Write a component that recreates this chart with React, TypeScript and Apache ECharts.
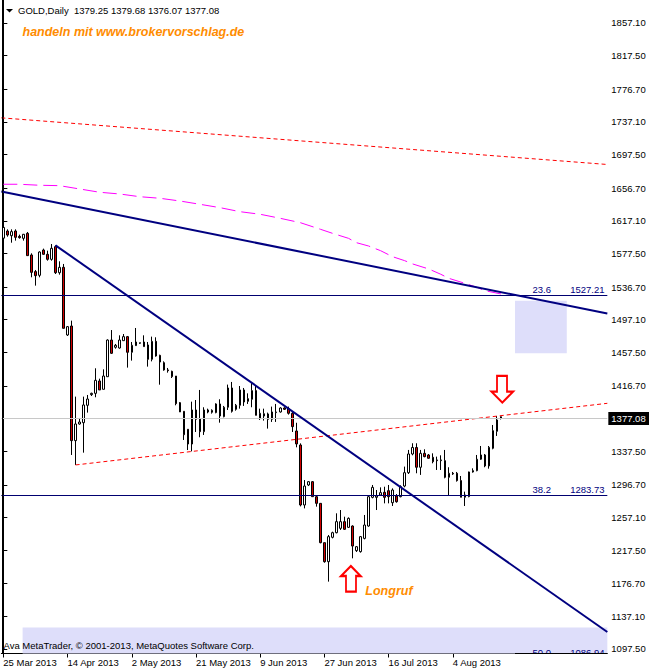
import React, { useEffect, useRef } from 'react';
import * as echarts from 'echarts';

const FONT = '"Liberation Sans", Arial, sans-serif';

// ---- axis setup ----
const SLOT_COUNT = 151; // daily slots incl. empty future space
const LABEL_STEP = 16;
const dateLabels = ['25 Mar 2013', '14 Apr 2013', '2 May 2013', '21 May 2013', '9 Jun 2013', '27 Jun 2013', '16 Jul 2013', '4 Aug 2013'];
const yTickValues = [1857.1, 1817.5, 1776.7, 1737.1, 1697.5, 1656.7, 1617.1, 1577.5, 1536.7, 1497.1, 1457.5, 1416.7, 1337.5, 1296.7, 1257.1, 1217.5, 1176.7, 1137.1, 1097.5];
const Y_MIN = 1092;
const Y_MAX = 1885;

// ---- GOLD daily candles (slot 0 = first, partially hidden bar) ----
const opens = [
  1596,
  1604.7, 1599.0, 1604.7, 1598.2, 1595.8, 1601.9, 1575.6, 1555.4, 1550.9, 1581.6,
  1576.4, 1570.3, 1585.7, 1554.1, 1560.6, 1478.5, 1489.4, 1350.3, 1370.5, 1372.1,
  1393.2, 1406.1, 1407.7, 1422.7, 1412.6, 1427.9, 1472.4, 1463.6, 1462.7, 1471.6,
  1476.5, 1457.5, 1465.6, 1468.4, 1470.0, 1466.4, 1449.0, 1470.8, 1453.8, 1444.9,
  1436.1, 1434.4, 1428.7, 1396.4, 1385.9, 1364.1, 1346.2, 1387.5, 1377.0, 1361.2,
  1385.0, 1384.7, 1384.3, 1394.8, 1379.4, 1390.8, 1414.2, 1388.3, 1393.2, 1411.8,
  1398.0, 1400.5, 1411.0, 1377.0, 1380.2, 1382.7, 1376.2, 1384.3, 1385.1, 1389.9,
  1389.1, 1383.5, 1362.0, 1345.0, 1272.2, 1296.5, 1300.5, 1282.3, 1274.2, 1226.5,
  1203.4, 1233.0, 1238.6, 1243.9, 1252.0, 1245.1, 1246.7, 1216.8, 1215.6, 1231.7,
  1246.7, 1281.5, 1281.5, 1284.3, 1287.6, 1289.6, 1275.0, 1283.1, 1282.3, 1295.2,
  1311.4, 1334.1, 1342.0, 1318.0, 1334.9, 1332.9, 1330.1, 1326.9, 1326.0, 1326.0,
  1305.8, 1310.7, 1310.7, 1301.8, 1281.6, 1282.4, 1312.3, 1313.9, 1327.7, 1332.9,
  1319.6, 1341.0, 1361.6, 1379.25
];
const highs = [
  1614,
  1606.7, 1606.7, 1606.7, 1600.3, 1601.1, 1603.5, 1577.6, 1557.4, 1580.0, 1583.3,
  1580.8, 1588.9, 1587.3, 1567.9, 1564.7, 1489.4, 1495.9, 1403.7, 1377.8, 1403.7,
  1405.7, 1408.5, 1438.1, 1425.5, 1436.8, 1473.2, 1484.5, 1467.6, 1478.1, 1479.7,
  1477.3, 1470.0, 1487.0, 1469.2, 1478.1, 1470.0, 1476.5, 1475.7, 1454.6, 1446.5,
  1438.5, 1435.2, 1428.7, 1397.2, 1385.9, 1364.1, 1397.6, 1399.6, 1411.8, 1390.8,
  1389.1, 1388.3, 1395.6, 1400.5, 1392.4, 1418.3, 1421.5, 1394.8, 1416.6, 1414.2,
  1407.7, 1420.7, 1417.5, 1389.1, 1389.1, 1384.3, 1391.6, 1394.8, 1390.8, 1390.8,
  1391.6, 1385.1, 1372.0, 1347.0, 1302.5, 1301.3, 1301.3, 1284.3, 1274.2, 1226.5,
  1235.8, 1239.8, 1262.1, 1266.1, 1258.0, 1257.2, 1247.5, 1222.4, 1234.6, 1260.1,
  1284.3, 1296.5, 1290.4, 1293.6, 1294.4, 1296.5, 1292.4, 1285.5, 1296.1, 1318.8,
  1339.0, 1347.1, 1347.1, 1339.0, 1339.8, 1334.1, 1334.9, 1330.9, 1332.5, 1339.0,
  1318.0, 1312.3, 1312.3, 1307.4, 1288.4, 1312.7, 1316.7, 1332.9, 1343.8, 1334.1,
  1343.8, 1369.3, 1380.2, 1379.68
];
const lows = [
  1588,
  1597.8, 1590.5, 1593.0, 1595.4, 1593.0, 1574.8, 1548.5, 1538.4, 1548.5, 1576.0,
  1568.7, 1568.7, 1552.5, 1551.7, 1486.6, 1477.3, 1332.9, 1320.8, 1369.7, 1335.7,
  1384.3, 1404.5, 1402.9, 1411.8, 1412.6, 1427.9, 1455.5, 1461.9, 1461.9, 1471.6,
  1438.9, 1447.4, 1465.2, 1467.6, 1464.4, 1440.1, 1446.5, 1452.2, 1418.2, 1435.2,
  1432.8, 1426.3, 1393.2, 1385.1, 1351.1, 1338.9, 1337.3, 1360.8, 1354.4, 1357.2,
  1383.5, 1383.1, 1383.5, 1372.1, 1378.6, 1387.5, 1384.3, 1386.7, 1389.1, 1392.4,
  1394.8, 1390.8, 1381.0, 1375.4, 1374.6, 1364.9, 1373.0, 1373.0, 1384.3, 1387.5,
  1381.9, 1360.8, 1342.2, 1270.5, 1268.1, 1295.2, 1282.3, 1270.2, 1225.7, 1202.2,
  1179.2, 1231.7, 1237.8, 1241.9, 1241.9, 1244.3, 1207.5, 1215.2, 1214.4, 1230.5,
  1245.9, 1280.3, 1266.1, 1283.1, 1274.2, 1274.2, 1271.0, 1275.0, 1281.5, 1293.7,
  1309.8, 1332.5, 1310.7, 1308.7, 1330.1, 1328.5, 1322.8, 1314.7, 1314.7, 1304.6,
  1283.2, 1308.7, 1300.6, 1281.6, 1271.0, 1281.6, 1311.5, 1313.1, 1326.9, 1318.0,
  1316.3, 1339.8, 1356.0, 1376.07
];
const closes = [
  1609,
  1599.8, 1603.9, 1597.0, 1596.6, 1600.7, 1574.8, 1554.5, 1550.5, 1579.2, 1576.4,
  1570.3, 1583.7, 1554.1, 1560.6, 1486.6, 1488.6, 1350.3, 1370.5, 1372.9, 1393.6,
  1400.8, 1407.7, 1423.5, 1411.8, 1428.7, 1472.4, 1456.3, 1466.0, 1472.4, 1476.5,
  1457.5, 1466.0, 1470.0, 1469.2, 1464.4, 1449.0, 1470.8, 1453.0, 1445.7, 1436.1,
  1435.2, 1428.0, 1395.2, 1385.1, 1357.5, 1346.2, 1387.5, 1376.2, 1361.2, 1387.5,
  1387.5, 1387.1, 1394.8, 1380.2, 1390.8, 1414.2, 1385.9, 1393.2, 1411.8, 1397.2,
  1401.3, 1411.0, 1381.0, 1383.5, 1383.0, 1376.2, 1385.1, 1385.1, 1389.9, 1388.3,
  1383.5, 1367.3, 1346.3, 1272.2, 1295.2, 1300.5, 1282.3, 1274.2, 1226.5, 1203.4,
  1233.8, 1238.6, 1252.0, 1252.0, 1242.7, 1256.0, 1222.4, 1221.6, 1233.8, 1247.9,
  1282.3, 1293.6, 1283.1, 1287.2, 1281.5, 1282.3, 1290.4, 1276.2, 1294.5, 1311.4,
  1334.1, 1342.0, 1318.0, 1334.9, 1330.9, 1328.9, 1324.8, 1326.0, 1326.9, 1305.8,
  1310.7, 1309.9, 1301.8, 1281.6, 1284.4, 1312.3, 1313.9, 1327.7, 1332.9, 1319.6,
  1342.2, 1362.4, 1375.4, 1377.08
];

// ---- moving average (magenta, dashed) read at slots ----
const maPoints: [number, number][] = [
  [0, 1661.4], [4, 1661.4], [9, 1660.2], [14, 1659.7], [19, 1655.7], [24, 1651.7], [29, 1649.6],
  [34, 1646.3], [39, 1644.4], [44, 1641.1], [49, 1637.1], [54, 1633.0], [59, 1628.1], [64, 1625.0],
  [69, 1620.1], [74, 1614.8], [79, 1606.8], [82, 1601.9], [86, 1595.8], [88, 1590.5], [91, 1586.5],
  [94, 1580.8], [97, 1573.5], [100, 1568.7], [102, 1564.7], [106, 1558.6], [109, 1552.2], [111, 1547.3],
  [115, 1541.2], [118, 1536.4], [120, 1532.3], [124, 1528.3]
];

// ---- drawn objects ----
const blueTrendUpper: [number, number][] = [[-0.5, 1652.7], [150.5, 1504.5]];
const blueTrendLower: [number, number][] = [[13, 1587.3], [150.5, 1118.1]];
const redDotUpper: [number, number][] = [[-0.5, 1742.0], [150.5, 1685.4]];
const redDotLower: [number, number][] = [[18, 1320.8], [150.5, 1395.6]];
const fibLevels = [
  { pct: '23.6', price: 1527.21 },
  { pct: '38.2', price: 1283.73 },
  { pct: '50.0', price: 1086.94 }
];
const boxTopRight = [[127.5, 1520.1], [140.4, 1456.3]];
const boxBottom = [[4.8, 1123.6], [150.5, Y_MIN]];
const arrowDown = [124.33, 1412.6];
const arrowUp = [86.59, 1182.6];
const lastPrice = closes[closes.length - 1];

const categories = Array.from({ length: SLOT_COUNT }, (_, i) =>
  i % LABEL_STEP === 0 && i / LABEL_STEP < dateLabels.length ? dateLabels[i / LABEL_STEP] : ''
);
const labelInterval = (i: number) => i % LABEL_STEP === 0 && i / LABEL_STEP < dateLabels.length;
const candleData = opens.map((o, i) => [o, closes[i], lows[i], highs[i]]);

export default function App() {
  const ref = useRef<HTMLDivElement>(null);
  useEffect(() => {
    if (!ref.current) return;
    const chart = echarts.init(ref.current, undefined, { renderer: 'svg' });
    const AX_FS = 9.5;
    const option: any = {
      animation: false,
      backgroundColor: '#ffffff',
      textStyle: { fontFamily: FONT },
      grid: { left: 1.33, top: 0, width: 606, height: 653.5, containLabel: false },
      xAxis: [
        {
          type: 'category',
          data: categories,
          boundaryGap: true,
          position: 'bottom',
          axisLine: { show: true, lineStyle: { color: '#000', width: 1 } },
          axisTick: { show: true, alignWithLabel: true, interval: labelInterval, length: 4, lineStyle: { color: '#000' } },
          axisLabel: { show: true, interval: labelInterval, align: 'left', margin: 4, fontSize: AX_FS, color: '#000', fontFamily: FONT },
          splitLine: { show: false }
        },
        { type: 'value', min: -0.5, max: SLOT_COUNT - 0.5, show: false, splitLine: { show: false } }
      ],
      yAxis: {
        type: 'value',
        position: 'right',
        min: Y_MIN,
        max: Y_MAX,
        axisLine: { show: true, lineStyle: { color: '#000', width: 1 } },
        axisTick: { show: true, customValues: yTickValues, length: 4, lineStyle: { color: '#000' } },
        axisLabel: { show: true, customValues: yTickValues, formatter: (v: number) => v.toFixed(2), margin: 4, fontSize: AX_FS, color: '#000', fontFamily: FONT },
        splitLine: { show: false }
      },
      series: [
        {
          type: 'line', xAxisIndex: 1, data: [], z: 1, silent: true,
          markArea: {
            silent: true,
            itemStyle: { color: '#dedefa' },
            data: [
              [{ coord: boxTopRight[0] }, { coord: boxTopRight[1] }],
              [{ coord: boxBottom[0] }, { coord: boxBottom[1] }]
            ]
          }
        },
        {
          type: 'line', xAxisIndex: 1, data: [], z: 2, silent: true,
          markLine: {
            silent: true,
            symbol: ['none', 'none'],
            label: { show: false },
            data: [
              { yAxis: lastPrice, lineStyle: { color: '#c8c8c8', width: 1, type: 'solid' } },
              ...fibLevels.map((f) => ({ yAxis: f.price, lineStyle: { color: '#000070', width: 1, type: 'solid' } }))
            ]
          }
        },
        {
          type: 'candlestick', xAxisIndex: 0, data: candleData, barWidth: 2, z: 3,
          itemStyle: { color: '#ffffff', color0: '#d00000', borderColor: '#000', borderColor0: '#000', borderWidth: 1 }
        },
        {
          type: 'line', xAxisIndex: 1, data: maPoints, symbol: 'none', z: 4,
          lineStyle: { color: '#ff00ff', width: 1, type: [14, 6] }
        },
        {
          type: 'line', xAxisIndex: 1, data: redDotUpper, symbol: 'none', z: 4,
          lineStyle: { color: '#ff0000', width: 1, type: [4, 3] }
        },
        {
          type: 'line', xAxisIndex: 1, data: redDotLower, symbol: 'none', z: 4,
          lineStyle: { color: '#ff0000', width: 1, type: [4, 3] }
        },
        {
          type: 'line', xAxisIndex: 1, data: blueTrendUpper, symbol: 'none', z: 5,
          lineStyle: { color: '#000080', width: 2 }
        },
        {
          type: 'line', xAxisIndex: 1, data: blueTrendLower, symbol: 'none', z: 5,
          lineStyle: { color: '#000080', width: 2 }
        },
        {
          type: 'line', xAxisIndex: 1, data: [], z: 6, silent: true,
          markPoint: {
            silent: true,
            label: { show: false },
            itemStyle: { color: '#ffffff', borderColor: '#ff0000', borderWidth: 2 },
            data: [
              { coord: arrowDown, symbol: 'path://M5.5,0 L15.5,0 L15.5,15.7 L21.6,15.7 L10.8,26.7 L0,15.7 L5.5,15.7 Z', symbolSize: [21.6, 26.7] },
              { coord: arrowUp, symbol: 'path://M9.85,0 L19.7,10 L15,10 L15,25.7 L5,25.7 L5,10 L0,10 Z', symbolSize: [19.7, 25.7] }
            ]
          }
        }
      ]
    };
    chart.setOption(option);

    const px = (v: number) => chart.convertToPixel({ xAxisIndex: 1 }, v) as number;
    const py = (v: number) => chart.convertToPixel({ yAxisIndex: 0 }, v) as number;
    const rightX = px(SLOT_COUNT - 0.5);
    const bottomY = py(Y_MIN);
    const last = opens.length - 1;
    const header = `GOLD,Daily  ${opens[last].toFixed(2)} ${highs[last].toFixed(2)} ${lows[last].toFixed(2)} ${closes[last].toFixed(2)}`;
    const txt = (x: number, y: number, text: string, font: string, fill: string, align = 'left', z = 10) => ({
      type: 'text', x, y, z, silent: true,
      style: { text, font, fill, align, textAlign: align, verticalAlign: 'middle', textVerticalAlign: 'middle' }
    });
    const small = `${AX_FS}px ${FONT}`;
    const orange = `italic bold 12.5px ${FONT}`;
    const graphics: any[] = [
      { type: 'line', z: 10, silent: true, shape: { x1: 2.5, y1: 0, x2: 2.5, y2: bottomY }, style: { stroke: '#000', lineWidth: 1 } },
      { type: 'polygon', z: 10, silent: true, shape: { points: [[6, 9], [13, 9], [9.5, 12.5]] }, style: { fill: '#000' } },
      txt(18, 10.7, header, small, '#000'),
      txt(22.5, 31.7, 'handeln mit www.brokervorschlag.de', orange, '#ff8c00'),
      txt(3.5, 645, 'Ava MetaTrader, © 2001-2013, MetaQuotes Software Corp.', small, '#000'),
      txt(px(arrowUp[0]) + 14.5, py(arrowUp[1]) + 12, 'Longruf', orange, '#ff8c00')
    ];
    fibLevels.forEach((f) => {
      const y = py(f.price) - 5.5;
      graphics.push(txt(532.5, y, f.pct, small, '#000080'));
      graphics.push(txt(604.5, y, f.price.toFixed(2), small, '#000080', 'right'));
    });
    graphics.push({ type: 'rect', z: 20, silent: true, shape: { x: 515, y: bottomY + 0.6, width: rightX - 515 - 0.5, height: 8 }, style: { fill: '#ffffff' } });
    graphics.push({ type: 'line', z: 21, silent: true, shape: { x1: 515, y1: bottomY, x2: rightX, y2: bottomY }, style: { stroke: '#000', lineWidth: 1 } });
    const lp = py(lastPrice);
    graphics.push({ type: 'rect', z: 20, silent: true, shape: { x: rightX + 1, y: lp - 6.5, width: 649 - rightX - 1, height: 13 }, style: { fill: '#000' } });
    graphics.push(txt(rightX + 4, lp, lastPrice.toFixed(2), small, '#ffffff', 'left', 21));
    chart.setOption({ graphic: graphics });

    return () => chart.dispose();
  }, []);
  return <div ref={ref} style={{ position: 'fixed', left: 0, top: 0, width: 649, height: 671 }} />;
}
